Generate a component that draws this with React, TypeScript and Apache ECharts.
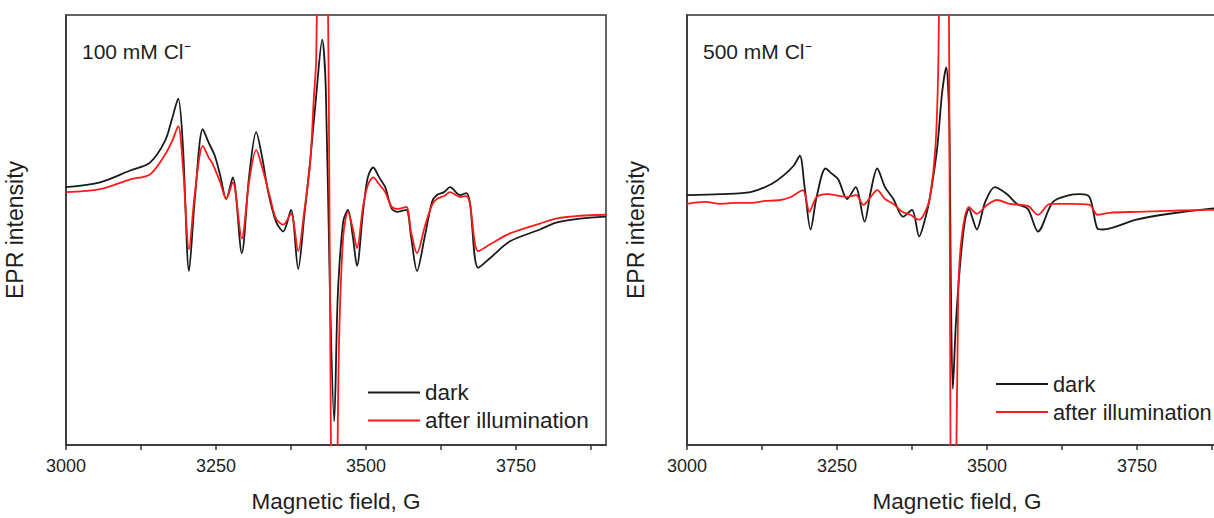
import React, { useEffect, useRef } from "react";
import * as echarts from "echarts";

// Magnetic field (G) / EPR intensity (arb. units) pairs
const dark100: number[][] = [
  [3000, 12], [3057, 17], [3107, 29], [3140, 37], [3165, 59], [3177, 82], [3187, 102],
  [3195, 52], [3205, -73], [3215, 2], [3228, 71], [3238, 57], [3248, 44], [3257, 24],
  [3267, 0], [3278, 22], [3293, -55], [3305, 22], [3317, 68], [3327, 42], [3337, 7],
  [3350, -23], [3362, -33], [3375, -11], [3387, -71], [3397, -18], [3407, 39], [3417, 105],
  [3427, 162], [3433, 112], [3440, -98], [3447, -226], [3453, -98], [3462, -23], [3470, -11],
  [3478, -38], [3485, -68], [3495, -13], [3503, 22], [3512, 32], [3522, 22], [3532, 12],
  [3543, -10], [3553, -13], [3567, -11], [3575, -38], [3585, -73], [3598, -38], [3610, -3],
  [3618, 4], [3630, 7], [3640, 12], [3657, 4], [3667, 6], [3673, -3], [3687, -70],
  [3707, -60], [3740, -43], [3790, -31], [3817, -24], [3857, -20], [3900, -18],
];
const light100: number[][] = [
  [3000, 7], [3057, 10], [3107, 20], [3140, 25], [3165, 45], [3177, 59], [3187, 74],
  [3195, 32], [3205, -51], [3215, 7], [3228, 54], [3238, 42], [3245, 35], [3257, 17],
  [3267, 0], [3278, 17], [3293, -40], [3305, 17], [3317, 50], [3327, 32], [3340, 2],
  [3350, -20], [3362, -26], [3375, -15], [3387, -53], [3397, -13], [3407, 37], [3413, 102],
  [3417, 142], [3423, 402], [3428, 552], [3433, 402], [3438, 102], [3442, -298], [3447, -598],
  [3452, -298], [3455, -148], [3462, -38], [3470, -13], [3478, -30], [3485, -50], [3495, -8],
  [3503, 14], [3512, 22], [3522, 15], [3532, 7], [3543, -8], [3553, -10], [3567, -8],
  [3575, -33], [3585, -55], [3598, -28], [3610, -6], [3618, 0], [3630, 3], [3640, 7],
  [3657, 2], [3667, 3], [3673, -4], [3687, -53], [3707, -46], [3740, -35], [3790, -25],
  [3817, -20], [3857, -17], [3900, -16],
];
const dark500: number[][] = [
  [3000, 4], [3056, 5], [3106, 7], [3140, 15], [3161, 24], [3178, 34], [3188, 44],
  [3196, 12], [3206, -31], [3216, 2], [3231, 31], [3241, 26], [3252, 20], [3267, 0],
  [3281, 12], [3296, -23], [3306, 7], [3317, 31], [3330, 12], [3344, 0], [3360, -18],
  [3375, -11], [3387, -38], [3397, -20], [3405, 2], [3417, 52], [3425, 107], [3432, 134],
  [3437, 82], [3440, -98], [3443, -193], [3448, -128], [3455, -68], [3463, -23], [3470, -10],
  [3476, -20], [3483, -31], [3497, -3], [3513, 12], [3533, 5], [3550, -5], [3568, -10],
  [3585, -33], [3610, -3], [3638, 4], [3655, 5], [3671, 2], [3684, -30], [3693, -31],
  [3749, -21], [3804, -15], [3870, -10], [3900, -9],
];
const light500: number[][] = [
  [3000, -5], [3030, -3], [3056, -5], [3080, -4], [3106, -4], [3130, -2], [3156, -1],
  [3173, 2], [3193, 9], [3204, -13], [3216, 2], [3234, 5], [3256, 3], [3267, 2], [3282, 4],
  [3294, -6], [3306, 2], [3317, 9], [3330, 0], [3344, -5], [3359, -13], [3372, -16],
  [3387, -21], [3397, -13], [3405, 2], [3414, 52], [3419, 142], [3424, 402], [3429, 552],
  [3434, 402], [3437, 142], [3440, -398], [3443, -598], [3447, -398], [3452, -98],
  [3458, -38], [3470, -8], [3483, -15], [3500, -6], [3517, -1], [3538, -5], [3568, -7],
  [3585, -16], [3605, -5], [3638, -5], [3671, -6], [3684, -16], [3704, -14], [3749, -13],
  [3804, -12], [3870, -11], [3900, -11],
];

const majorTicks = [3000, 3250, 3500, 3750];
const minorTicks = [3000, 3125, 3250, 3375, 3500, 3625, 3750, 3875];
const panelTitles = ["100 mM Cl\u207B", "500 mM Cl\u207B"];
const seriesNames = ["dark", "after illumination"];

const FONT = "'Liberation Sans', Arial, Helvetica, sans-serif";
const AXIS_COLOR = "#333";
const TEXT_COLOR = "#1e1e1e";
const DARK_COLOR = "#1a1a1a";
const RED_COLOR = "#ff1a1a";

export default function App() {
  const ref = useRef<HTMLDivElement>(null);

  useEffect(() => {
    if (!ref.current) return;
    const chart = echarts.init(ref.current, undefined, { renderer: "svg" });

    const grids = [
      { left: 66, top: 15, width: 540, height: 437 },
      { left: 687, top: 15, width: 540, height: 437 },
    ];

    const xAxes = grids.map((_, i) => ({
      type: "value",
      gridIndex: i,
      min: 3000,
      max: 3900,
      name: "Magnetic field, G",
      nameLocation: "middle",
      nameGap: 45,
      nameTextStyle: { fontSize: 22.5, color: TEXT_COLOR, fontFamily: FONT },
      axisLine: { show: true, onZero: false, lineStyle: { color: AXIS_COLOR, width: 1.5 } },
      axisTick: {
        show: true,
        inside: false,
        length: 5,
        customValues: minorTicks,
        lineStyle: { color: AXIS_COLOR, width: 1.5 },
      },
      axisLabel: {
        show: true,
        customValues: majorTicks,
        margin: 12,
        fontSize: 18,
        color: TEXT_COLOR,
        fontFamily: FONT,
        formatter: (v: number) => String(v),
      },
      splitLine: { show: false },
    }));

    const yAxes = grids.map((_, i) => ({
      type: "value",
      gridIndex: i,
      min: -250,
      max: 187,
      name: "EPR intensity",
      nameLocation: "middle",
      nameRotate: 90,
      nameGap: 40,
      nameTextStyle: { fontSize: 23, color: TEXT_COLOR, fontFamily: FONT },
      axisLine: { show: true, onZero: false, lineStyle: { color: AXIS_COLOR, width: 1.5 } },
      axisTick: { show: false },
      axisLabel: { show: false },
      splitLine: { show: false },
    }));

    const lineSeries = (name: string, data: number[][], idx: number, color: string) => ({
      name,
      type: "line",
      xAxisIndex: idx,
      yAxisIndex: idx,
      data,
      symbol: "none",
      showSymbol: false,
      smooth: 0.3,
      clip: true,
      lineStyle: { color, width: 1.8 },
      itemStyle: { color },
    });

    const legendBase = {
      orient: "vertical",
      padding: 0,
      icon: "rect",
      itemWidth: 52,
      itemHeight: 1.8,
      itemGap: 5,
      textStyle: { fontSize: 22.5, color: TEXT_COLOR, fontFamily: FONT },
      selectedMode: false,
    };
    const legendData = [
      { name: seriesNames[0], itemStyle: { color: DARK_COLOR } },
      { name: seriesNames[1], itemStyle: { color: RED_COLOR } },
    ];

    chart.setOption({
      animation: false,
      backgroundColor: "#ffffff",
      title: [
        {
          text: panelTitles[0],
          left: 82,
          top: 41,
          padding: 0,
          textStyle: { fontSize: 21, fontWeight: "normal", color: TEXT_COLOR, fontFamily: FONT },
        },
        {
          text: panelTitles[1],
          left: 703,
          top: 41,
          padding: 0,
          textStyle: { fontSize: 21, fontWeight: "normal", color: TEXT_COLOR, fontFamily: FONT },
        },
      ],
      legend: [
        { ...legendBase, data: legendData, left: 368, top: 381 },
        {
          ...legendBase,
          data: legendData,
          left: 996,
          top: 373,
          itemGap: 6,
          textStyle: { ...legendBase.textStyle, fontSize: 21.8 },
        },
      ],
      grid: grids.map((g) => ({
        ...g,
        show: true,
        borderColor: AXIS_COLOR,
        borderWidth: 1.5,
        backgroundColor: "transparent",
        containLabel: false,
      })),
      xAxis: xAxes,
      yAxis: yAxes,
      series: [
        lineSeries(seriesNames[0], dark100, 0, DARK_COLOR),
        lineSeries(seriesNames[1], light100, 0, RED_COLOR),
        lineSeries(seriesNames[0], dark500, 1, DARK_COLOR),
        lineSeries(seriesNames[1], light500, 1, RED_COLOR),
      ],
    });

    return () => chart.dispose();
  }, []);

  // The right panel runs past the window edge, so the chart is wider than the visible frame.
  return (
    <div
      style={{
        position: "fixed",
        left: 0,
        top: 0,
        width: 1214,
        height: 518,
        overflow: "hidden",
        background: "#fff",
      }}
    >
      <div ref={ref} style={{ width: 1240, height: 518 }} />
    </div>
  );
}
